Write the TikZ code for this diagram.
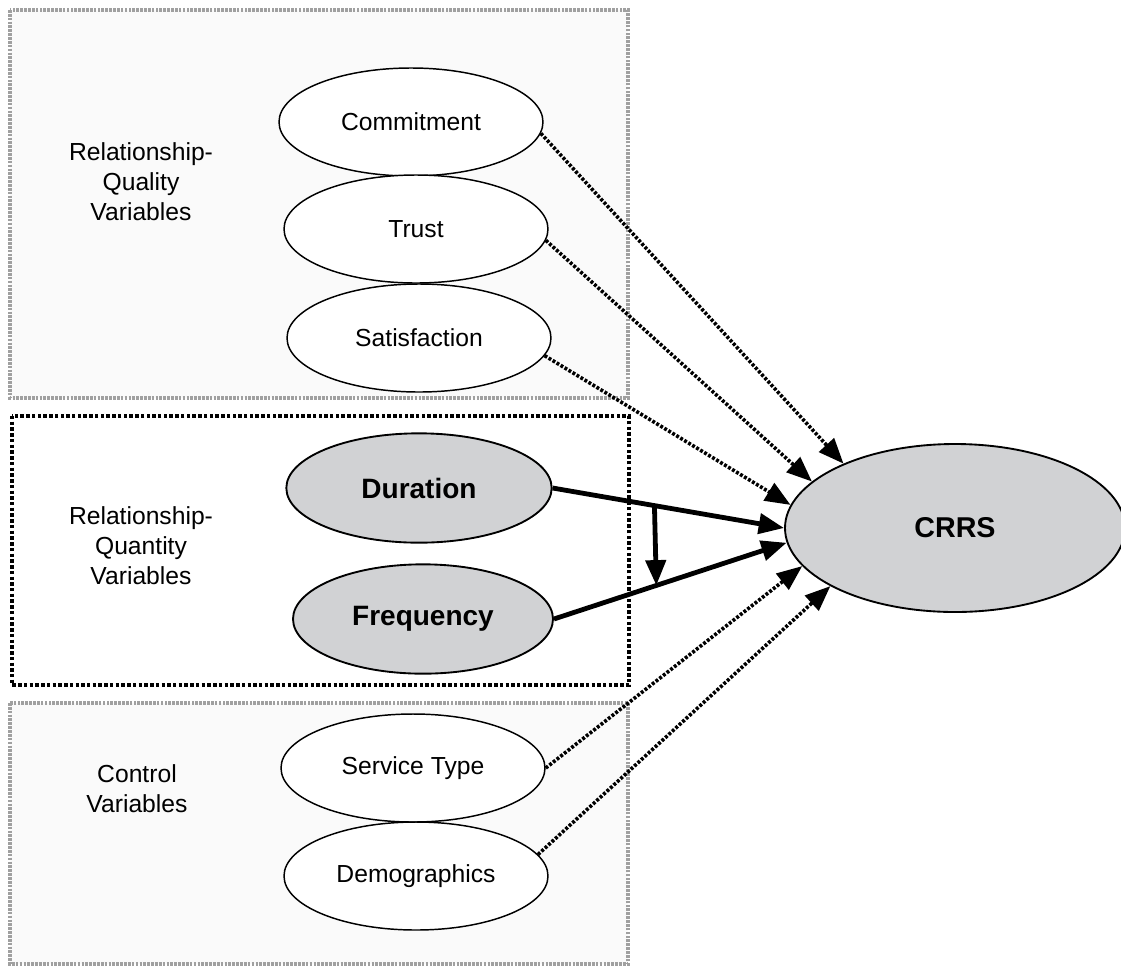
\documentclass[tikz,border=0pt]{standalone}
\usepackage{fontspec}
\setmainfont{Liberation Sans}
\usepackage{tikz}
\usetikzlibrary{shapes.geometric, arrows.meta, positioning}

\definecolor{boxgray}{HTML}{A0A0A0}
\definecolor{boxfill}{HTML}{FAFAFA}
\definecolor{varfill}{HTML}{D1D2D4}

\begin{document}
\begin{tikzpicture}[x=0.75pt, y=-0.75pt, >={Triangle[length=19pt, width=15pt]}]
    \tikzstyle{qual} = [draw, ellipse, line width=1.1pt, fill=white, inner sep=0pt,
        minimum width=198pt, minimum height=81pt, font=\fontsize{18.5}{22}\selectfont]
    \tikzstyle{quant} = [draw, ellipse, line width=1.4pt, fill=varfill, inner sep=0pt,
        minimum width=199pt, minimum height=82pt, font=\fontsize{21}{24}\selectfont\bfseries]
    \tikzstyle{group} = [align=center, font=\fontsize{18.5}{22.5}\selectfont]
    \tikzstyle{graybox} = [draw=boxgray, fill=boxfill, line width=2.3pt, dash pattern=on 2pt off 0.9pt]
    \tikzstyle{blackbox} = [draw, line width=2.7pt, dash pattern=on 2.6pt off 1.7pt]
    \tikzstyle{dotarrow} = [->, line width=2.7pt, dash pattern=on 2.2pt off 1.3pt]
    \tikzstyle{solidarrow} = [->, line width=3.6pt]

    \useasboundingbox (0,0) rectangle (1121,965);

    % groups
    \path[graybox] (10,10) rectangle (628,398);
    \path[blackbox] (12,416) rectangle (629,685);
    \path[graybox] (10,703) rectangle (628,964);

    \node[group] (lqual) at (141,182) {Relationship-\\Quality\\Variables};
    \node[group] (lquant) at (141,546) {Relationship-\\Quantity\\Variables};
    \node[group] (lctrl) at (137,789) {Control\\Variables};

    % variables
    \node[qual] (commit) at (411,122) {Commitment};
    \node[qual] (trust) at (416,229) {Trust};
    \node[qual] (satis) at (419,338) {Satisfaction};
    \node[quant] (dur) at (419,488) {Duration};
    \node[quant, minimum width=195pt] (freq) at (423,619) {Frequency};
    \node[qual] (serv) at (413,768) {Service Type};
    \node[qual] (demo) at (416,876) {Demographics};
    \node[quant, minimum width=255pt, minimum height=126pt, font=\fontsize{21.5}{24}\selectfont\bfseries] (crrs) at (955,528) {CRRS};

    \path[dotarrow]
        (commit.-5) edge (crrs.150)
        (trust.-5) edge (crrs.162)
        (satis.-8) edge (crrs.172)
        (serv.east) edge (crrs.194)
        (demo.10) edge (crrs.205)
        ;
    \draw[solidarrow] (dur.east) -- (crrs.180) coordinate[pos=0.44] (mtop);
    \draw[solidarrow] (freq.east) -- (crrs.185) coordinate[pos=0.44] (mbot);
    \draw[solidarrow] (mtop) -- (mbot);
\end{tikzpicture}
\end{document}
